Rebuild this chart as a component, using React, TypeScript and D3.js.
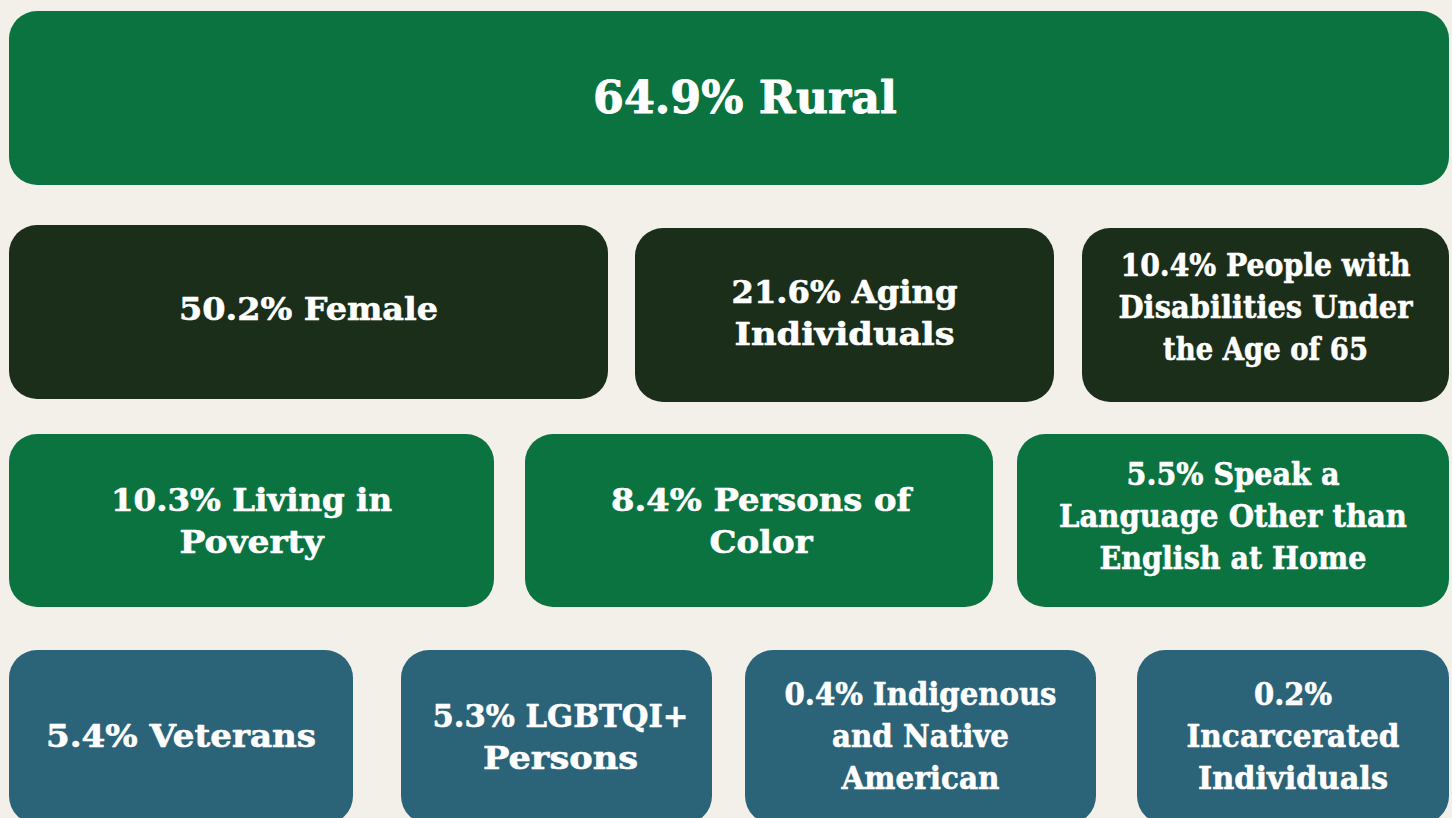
import React, { useEffect, useRef } from "react";
import * as d3 from "d3";

// ---- Data ----
const values: number[] = [64.9, 50.2, 21.6, 10.4, 10.3, 8.4, 5.5, 5.4, 5.3, 0.4, 0.2];
// "|" marks a line break in the rendered label
const labels: string[] = [
  "Rural",
  "Female",
  "Aging|Individuals",
  "People with|Disabilities Under|the Age of 65",
  "Living in|Poverty",
  "Persons of|Color",
  "Speak a|Language Other than|English at Home",
  "Veterans",
  "LGBTQI+|Persons",
  "Indigenous|and Native|American",
  "|Incarcerated|Individuals",
];
const tiers: string[] = ["green", "dark", "dark", "dark", "green", "green", "green", "blue", "blue", "blue", "blue"];

// ---- Layout (positions / sizes / styles) ----
const W = 1452;
const H = 818;
const tierColor = d3.scaleOrdinal<string, string>()
  .domain(["green", "dark", "blue"])
  .range(["#0A7340", "#1B2E19", "#2B6479"]);

// tile boxes: [x0, x1, y0, y1]
const boxes: [number, number, number, number][] = [
  [9, 1449, 11, 185],
  [9, 608, 225, 399],
  [635, 1054, 228, 402],
  [1082, 1449, 228, 402],
  [9, 494, 434, 607],
  [525, 993, 434, 607],
  [1017, 1449, 434, 607],
  [9, 353, 650, 824],
  [401, 712, 650, 824],
  [745, 1096, 650, 824],
  [1137, 1449, 650, 824],
];
const fontSizes = [45, 32, 32, 32, 32, 32, 32, 32, 32, 32, 32];
const lineWidths: number[][] = [
  [304],
  [259],
  [226, 220],
  [290, 294, 205],
  [281, 144],
  [300, 103],
  [213, 348, 267],
  [270],
  [256, 155],
  [272, 177, 158],
  [78, 213, 190],
];
const dxs = [16, 0, 0, 0, 0, 2, 0, 0, 4, 0, 0];
const dys = [-1, -4, -3, -9, 0, 0, -5, -2, -1, -2, -2];
const LINE_H = 42;
const RADIUS = 28;
const FONT = "'DejaVu Serif', serif";

export default function App() {
  const ref = useRef<SVGSVGElement | null>(null);

  useEffect(() => {
    const svg = d3.select(ref.current);
    svg.selectAll("*").remove();

    svg.append("rect").attr("width", W).attr("height", H).attr("fill", "#F3F0EA");

    const tiles = values.map((v, i) => {
      const raw = `${v}% ${labels[i]}`;
      const lines = raw.split("|").map((s) => s.trim());
      return { v, i, lines, box: boxes[i], tier: tiers[i] };
    });

    const g = svg.selectAll("g.tile").data(tiles).enter().append("g").attr("class", "tile");

    g.append("rect")
      .attr("x", (d) => d.box[0])
      .attr("y", (d) => d.box[2])
      .attr("width", (d) => d.box[1] - d.box[0])
      .attr("height", (d) => d.box[3] - d.box[2])
      .attr("rx", RADIUS)
      .attr("ry", RADIUS)
      .attr("fill", (d) => tierColor(d.tier));

    g.each(function (d) {
      const sel = d3.select(this);
      const fs = fontSizes[d.i];
      const cx = (d.box[0] + d.box[1]) / 2 + dxs[d.i];
      const cy = (d.box[2] + d.box[3]) / 2;
      const n = d.lines.length;
      const capHalf = fs * 0.365;
      const first = cy - ((n - 1) / 2) * LINE_H + capHalf + dys[d.i];
      d.lines.forEach((line, k) => {
        sel.append("text")
          .attr("x", cx)
          .attr("y", first + k * LINE_H)
          .attr("text-anchor", "middle")
          .attr("font-family", FONT)
          .attr("font-weight", 700)
          .attr("font-size", fs)
          .attr("fill", "#FFFFFF")
          .attr("stroke", "#FFFFFF")
          .attr("stroke-width", fs > 40 ? 0.9 : 0.6)
          .attr("stroke-linejoin", "round")
          .attr("textLength", lineWidths[d.i][k])
          .attr("lengthAdjust", "spacingAndGlyphs")
          .text(line);
      });
    });
  }, []);

  return (
    <svg
      ref={ref}
      width={W}
      height={H}
      style={{ position: "fixed", left: 0, top: 0, display: "block" }}
    />
  );
}
